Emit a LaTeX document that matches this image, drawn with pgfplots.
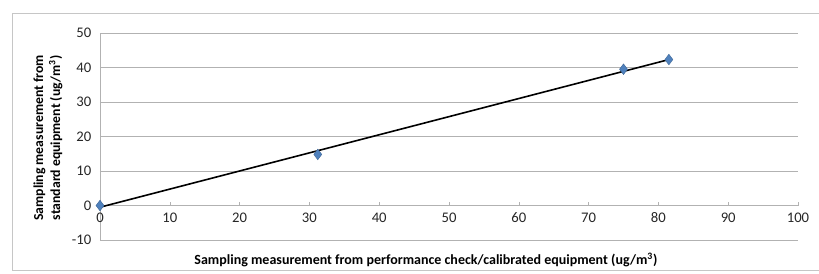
\documentclass[border=0pt]{standalone}
\usepackage{pgfplots}
\pgfplotsset{compat=1.18}
\usepackage{fontspec}
\setmainfont{Carlito}
\definecolor{mkblue}{HTML}{4F81BD}
\begin{document}
\begin{tikzpicture}
\path[use as bounding box] (0pt,0pt) rectangle (614.25pt,204.75pt);
\draw[gray!45, line width=0.6pt] (614.25pt,195pt) -- (9pt,195pt) -- (9pt,2.25pt) -- (614.25pt,2.25pt);
\begin{axis}[
  at={(75pt,24.75pt)}, anchor=south west, scale only axis,
  width=523.5pt, height=155.25pt,
  xmin=0, xmax=100, ymin=-10, ymax=50,
  xtick={0,10,...,100}, ytick={-10,0,...,50},
  axis x line=middle, axis y line=left,
  hide obscured x ticks=false,
  axis line style={gray!60, -, line width=0.6pt},
  ymajorgrids, grid style={gray!60, line width=0.6pt},
  major tick length=3pt, tick style={gray!60}, tick align=inside,
  ytick style={draw=none},
  /pgf/number format/assume math mode=true,
  tick label style={font=\fontsize{11}{12}\selectfont, text=black!85},
  x tick label style={yshift=-2pt},
  y tick label style={xshift=-3pt},
  xlabel={Sampling measurement from performance check/calibrated equipment (ug/m\textsuperscript{3})},
  xlabel style={at={(axis description cs:0.467,-0.097)}, anchor=center, font=\fontsize{10.5}{12}\selectfont\bfseries},
  ylabel={Sampling measurement from\\standard equipment (ug/m\textsuperscript{3})},
  ylabel style={at={(axis description cs:-0.0745,0.493)}, anchor=center, align=center, font=\fontsize{10.3}{12.75}\selectfont\bfseries},
  clip=false,
]
\addplot[black, line width=1.2pt] coordinates {(0,-0.5) (81.5,42.3)};
\addplot[only marks, mark=diamond*, mark size=4pt, mark options={fill=mkblue, draw=mkblue!80!black, line width=0.3pt}]
  coordinates {(0,0) (31.2,14.8) (75,39.5) (81.5,42.3)};
\end{axis}
\end{tikzpicture}
\end{document}
